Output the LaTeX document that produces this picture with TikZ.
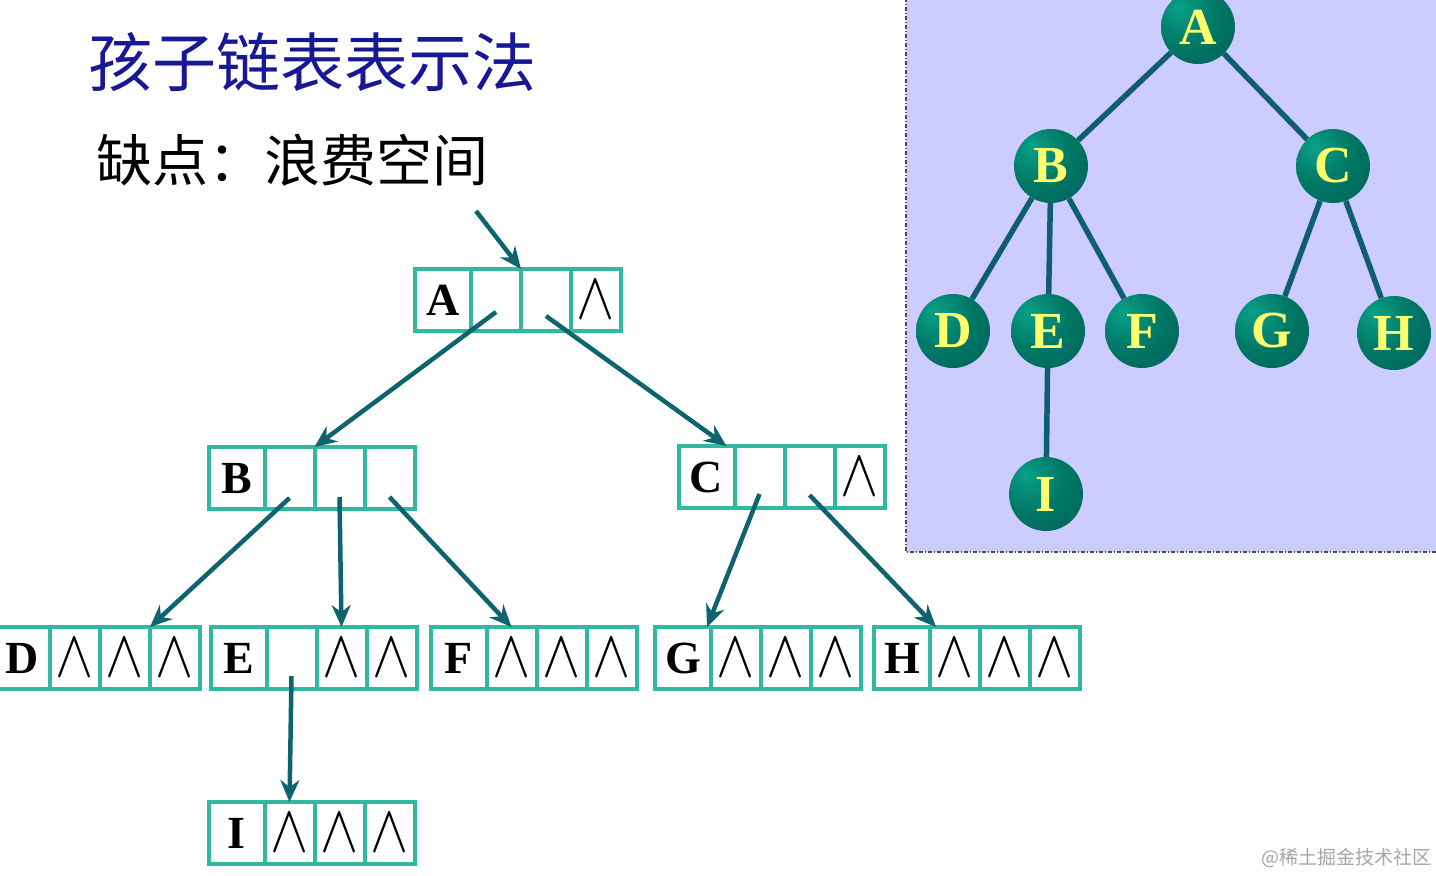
\documentclass[tikz,border=0pt]{standalone}
\usepackage{fontspec}
\setmainfont{Liberation Serif}
\newfontfamily\cjk{Noto Sans CJK SC}
\usepackage{graphicx}
\usepackage{xcolor}
\usepackage{tikz}
\usetikzlibrary{positioning,arrows.meta}

\definecolor{cellline}{RGB}{48,184,160}
\definecolor{ptrline}{RGB}{14,100,110}
\definecolor{titleblue}{RGB}{24,24,150}
\definecolor{panelbg}{RGB}{204,204,255}
\definecolor{treeline}{RGB}{16,92,112}
\definecolor{ballhi}{RGB}{10,160,136}
\definecolor{ballmid}{RGB}{0,120,102}
\definecolor{balldark}{RGB}{0,78,78}
\definecolor{ballletter}{RGB}{255,255,110}
\pgfdeclareradialshading{tealball}{\pgfpoint{-14bp}{14bp}}{color(0bp)=(ballhi); color(22bp)=(ballmid); color(60bp)=(balldark); color(72bp)=(balldark)}
\newcommand{\nilmark}{\scalebox{2.3}[2.7]{$\wedge$}}

\begin{document}
\begin{tikzpicture}[x=1pt, y=-1pt,
  cell/.style={draw=cellline, line width=4pt, outer sep=0pt, inner sep=0pt, minimum width=50pt, minimum height=62pt, font=\fontsize{24.88}{26}\selectfont},
  headcell/.style={cell, minimum width=56pt, font=\fontsize{46}{50}\selectfont\bfseries},
  ptr/.style={-{Stealth[length=22pt, width=19pt]}, draw=ptrline, line width=4.5pt},
  ball/.style={circle, minimum size=74pt, inner sep=0pt, shading=tealball, text=ballletter, font=\fontsize{52}{56}\selectfont\bfseries},
  branch/.style={draw=treeline, line width=5.5pt},
  panelrule/.style={draw=gray!60!black, line width=1.5pt, dash pattern=on 4pt off 2pt on 1pt off 2pt}]
\useasboundingbox (0,0) rectangle (1436,876);
\fill[white] (0,0) rectangle (1436,876);

% texts
\node[anchor=west, inner sep=0pt, text=titleblue, font=\cjk\fontsize{64}{70}\selectfont] (title) at (88,62) {孩子链表表示法};
\node[anchor=west, inner sep=0pt, font=\cjk\fontsize{56}{60}\selectfont] (note) at (96,160) {缺点：浪费空间};
\node[anchor=east, inner sep=0pt, text=gray!70, font=\cjk\fontsize{19}{20}\selectfont] (mark) at (1432,858) {@稀土掘金技术社区};

% tree panel
\fill[panelbg] (906,-2) rectangle (1438,552);
\draw[panelrule] (906,-2) -- (906,552) -- (1438,552);
\node[ball] (tA) at (1198,27) {A};
\node[ball] (tB) at (1051,166) {B};
\node[ball] (tC) at (1333,166) {C};
\node[ball] (tD) at (953,331) {D};
\node[ball] (tE) at (1048,331) {E};
\node[ball] (tF) at (1142,331) {F};
\node[ball] (tG) at (1272,331) {G};
\node[ball] (tH) at (1394,333) {H};
\node[ball] (tI) at (1046,494) {I};
\draw[branch] (tA) -- (tB);
\draw[branch] (tA) -- (tC);
\draw[branch] (tB) -- (tD);
\draw[branch] (tB) -- (tE);
\draw[branch] (tB) -- (tF);
\draw[branch] (tC) -- (tG);
\draw[branch] (tC) -- (tH);
\draw[branch] (tE) -- (tI);

% child lists
\node[headcell] (A0) at (443,300) {A};
\node[cell, right=0pt of A0] (A1) {};
\node[cell, right=0pt of A1] (A2) {};
\node[cell, right=0pt of A2] (A3) {\nilmark};

\node[headcell] (B0) at (236.5,478) {B};
\node[cell, right=0pt of B0] (B1) {};
\node[cell, right=0pt of B1] (B2) {};
\node[cell, right=0pt of B2] (B3) {};

\node[headcell] (C0) at (706.5,477) {C};
\node[cell, right=0pt of C0] (C1) {};
\node[cell, right=0pt of C1] (C2) {};
\node[cell, right=0pt of C2] (C3) {\nilmark};

\node[headcell] (D0) at (22,658) {D};
\node[cell, right=0pt of D0] (D1) {\nilmark};
\node[cell, right=0pt of D1] (D2) {\nilmark};
\node[cell, right=0pt of D2] (D3) {\nilmark};

\node[headcell] (E0) at (238.5,658) {E};
\node[cell, right=0pt of E0] (E1) {};
\node[cell, right=0pt of E1] (E2) {\nilmark};
\node[cell, right=0pt of E2] (E3) {\nilmark};

\node[headcell] (F0) at (458.5,658) {F};
\node[cell, right=0pt of F0] (F1) {\nilmark};
\node[cell, right=0pt of F1] (F2) {\nilmark};
\node[cell, right=0pt of F2] (F3) {\nilmark};

\node[headcell] (G0) at (683,658) {G};
\node[cell, right=0pt of G0] (G1) {\nilmark};
\node[cell, right=0pt of G1] (G2) {\nilmark};
\node[cell, right=0pt of G2] (G3) {\nilmark};

\node[headcell] (H0) at (902,658) {H};
\node[cell, right=0pt of H0] (H1) {\nilmark};
\node[cell, right=0pt of H1] (H2) {\nilmark};
\node[cell, right=0pt of H2] (H3) {\nilmark};

\node[headcell] (I0) at (236.5,833) {I};
\node[cell, right=0pt of I0] (I1) {\nilmark};
\node[cell, right=0pt of I1] (I2) {\nilmark};
\node[cell, right=0pt of I2] (I3) {\nilmark};

% pointers
\coordinate (head) at (476,211);
\draw[ptr] (head) -- (A2.north west);
\draw[ptr] ([yshift=-12pt]A1.center) -- (B2.north west);
\draw[ptr] ([yshift=-16pt]A2.center) -- ([xshift=-8pt]C1.north west);
\draw[ptr] ([yshift=-20pt]B1.center) -- (D3.north west);
\draw[ptr] ([yshift=-19pt]B2.center) -- (E2.north);
\draw[ptr] ([yshift=-19pt]B3.center) -- (F1.north);
\draw[ptr] ([yshift=-17pt]C1.center) -- ([xshift=-4pt]G1.north west);
\draw[ptr] ([yshift=-18pt]C2.center) -- ([xshift=6pt]H1.north west);
\draw[ptr] ([yshift=-18pt]E1.center) -- (I1.north);
\end{tikzpicture}
\end{document}
